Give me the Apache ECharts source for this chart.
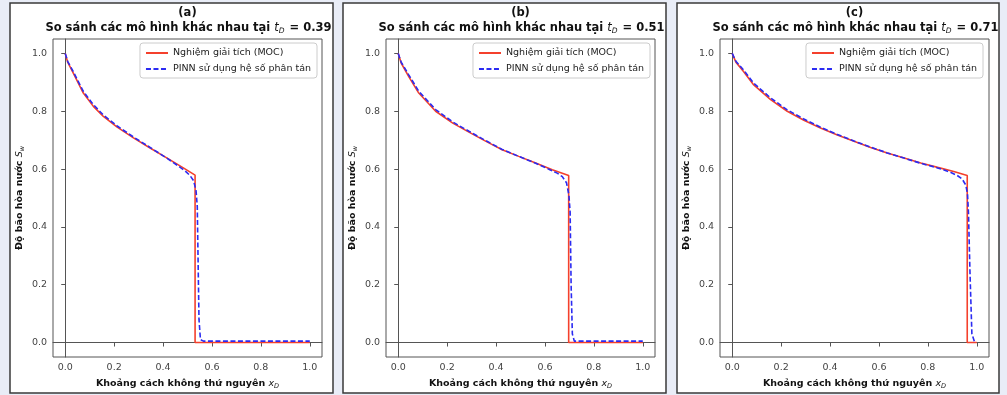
<!DOCTYPE html>
<html>
<head>
<meta charset="utf-8">
<script src="https://cdn.jsdelivr.net/npm/echarts@6/dist/echarts.min.js"></script>
<style>
  html, body { margin: 0; padding: 0; background: #e9edf7; }
  #chart { width: 1007px; height: 395px; }
</style>
</head>
<body>
<div id="chart"></div>
<script>
// tick positions shared by the 3 subplots
const tickValues = [0, 0.2, 0.4, 0.6, 0.8, 1.0]
const panelTags = ['(a)', '(b)', '(c)']
const timeLabels = ['0.39', '0.51', '0.71']
const nameMoc = 'Nghiệm giải tích (MOC)'
const namePinn = 'PINN sử dụng hệ số phân tán'

// (a) t_D = 0.39
const mocXA = [0, 0.01, 0.033, 0.074, 0.115, 0.156, 0.211, 0.279, 0.347, 0.415, 0.483, 0.531, 0.531, 1.0]
const mocSA = [1.0, 0.97, 0.932, 0.863, 0.817, 0.782, 0.746, 0.708, 0.673, 0.639, 0.604, 0.579, 0, 0]
const pinnXA = [0, 0.01, 0.033, 0.074, 0.115, 0.156, 0.211, 0.279, 0.347, 0.415, 0.46, 0.49, 0.51, 0.525, 0.535, 0.54, 0.543, 0.547, 0.553, 0.565, 1.0]
const pinnSA = [1.0, 0.973, 0.937, 0.869, 0.823, 0.787, 0.75, 0.711, 0.675, 0.638, 0.612, 0.594, 0.578, 0.56, 0.525, 0.47, 0.3, 0.08, 0.01, 0.005, 0.005]

// (b) t_D = 0.51
const mocXB = [0, 0.012, 0.043, 0.084, 0.153, 0.223, 0.291, 0.359, 0.425, 0.493, 0.562, 0.63, 0.697, 0.697, 1.0]
const mocSB = [1.0, 0.967, 0.92, 0.863, 0.80, 0.759, 0.727, 0.696, 0.667, 0.644, 0.621, 0.598, 0.578, 0, 0]
const pinnXB = [0, 0.012, 0.043, 0.084, 0.153, 0.223, 0.291, 0.359, 0.425, 0.493, 0.562, 0.62, 0.65, 0.671, 0.688, 0.698, 0.703, 0.707, 0.712, 0.72, 1.0]
const pinnSB = [1.0, 0.97, 0.926, 0.869, 0.806, 0.763, 0.73, 0.698, 0.668, 0.644, 0.62, 0.598, 0.586, 0.574, 0.553, 0.51, 0.45, 0.2, 0.03, 0.005, 0.005]

// (c) t_D = 0.71
const mocXC = [0, 0.015, 0.047, 0.088, 0.157, 0.225, 0.293, 0.361, 0.43, 0.498, 0.566, 0.634, 0.703, 0.771, 0.84, 0.906, 0.961, 0.961, 1.0]
const mocSC = [1.0, 0.97, 0.937, 0.891, 0.84, 0.80, 0.769, 0.742, 0.718, 0.696, 0.675, 0.656, 0.638, 0.621, 0.606, 0.592, 0.578, 0, 0]
const pinnXC = [0, 0.015, 0.047, 0.088, 0.157, 0.225, 0.293, 0.361, 0.43, 0.498, 0.566, 0.634, 0.703, 0.771, 0.84, 0.89, 0.92, 0.94, 0.955, 0.962, 0.966, 0.972, 0.98, 0.99, 1.0]
const pinnSC = [1.0, 0.973, 0.942, 0.897, 0.846, 0.805, 0.773, 0.745, 0.72, 0.697, 0.676, 0.656, 0.638, 0.62, 0.604, 0.59, 0.578, 0.566, 0.545, 0.515, 0.45, 0.25, 0.03, 0.004, 0.004]

const mocX = [mocXA, mocXB, mocXC]
const mocS = [mocSA, mocSB, mocSC]
const pinnX = [pinnXA, pinnXB, pinnXC]
const pinnS = [pinnSA, pinnSB, pinnSC]

// layout of each figure panel (page coords)
const panelLeft = [10, 343, 677]
const panelWidth = [323, 323, 322]
const gridLeft = [53, 386, 720]
const gridWidth = 269
const legendRight = [690, 357, 24]

const font = 'DejaVu Sans'
const pair = (xs, ys) => xs.map((x, i) => [x, ys[i]])

// chữ in đậm / nghiêng / chỉ số dưới cho tên trục
const nameRich = {
    b: { fontFamily: font, fontSize: 9.5, fontWeight: 'bold', color: '#111' },
    it: { fontFamily: font, fontSize: 9.5, fontStyle: 'italic', color: '#111' },
    sub: { fontFamily: font, fontSize: 6.5, fontStyle: 'italic', color: '#111', padding: [5, 0, 0, 0] }
}

let grids = [], xAxes = [], yAxes = [], series = [], legends = [], graphics = []

for (let i = 0; i < 3; i++) {
    let cx = gridLeft[i] + gridWidth / 2
    // khung của mỗi hình con
    graphics.push({
        type: 'rect', z: -10,
        shape: { x: panelLeft[i], y: 3, width: panelWidth[i], height: 390 },
        style: { fill: '#fff', stroke: '#3a3a3a', lineWidth: 1.5 }
    })
    graphics.push({
        type: 'text', x: cx, y: 7,
        style: { text: panelTags[i], textAlign: 'center', font: 'bold 11.5px "DejaVu Sans"', fill: '#111' }
    })
    graphics.push({
        type: 'text', x: cx + 1, y: 21,
        style: {
            text: '{b|So sánh các mô hình khác nhau tại }{it|t}{sub|D}{b| = ' + timeLabels[i] + '}',
            textAlign: 'center',
            rich: {
                b: { fontFamily: font, fontSize: 11.5, fontWeight: 'bold', fill: '#111' },
                it: { fontFamily: font, fontSize: 11.5, fontStyle: 'italic', fill: '#111' },
                sub: { fontFamily: font, fontSize: 7.5, fontStyle: 'italic', fill: '#111', padding: [6, 1, 0, 0] }
            }
        }
    })

    grids.push({
        left: gridLeft[i], top: 39, width: gridWidth, height: 319,
        show: true, borderColor: '#555', borderWidth: 1, backgroundColor: 'transparent'
    })
    xAxes.push({
        type: 'value', gridIndex: i, min: -0.05, max: 1.05,
        name: '{b|Khoảng cách không thứ nguyên }{it|x}{sub|D}',
        nameLocation: 'middle', nameGap: 21,
        nameTextStyle: { rich: nameRich },
        axisLine: { show: true, lineStyle: { color: '#555' } },
        axisTick: { show: true, length: 4, customValues: tickValues, lineStyle: { color: '#555' } },
        axisLabel: {
            customValues: tickValues, fontFamily: font, fontSize: 9.5, color: '#444', margin: 6,
            formatter: v => v.toFixed(1)
        },
        splitLine: { show: false }
    })
    yAxes.push({
        type: 'value', gridIndex: i, min: -0.05, max: 1.05,
        name: '{b|Độ bão hòa nước }{it|S}{sub|w}',
        nameLocation: 'middle', nameGap: 27,
        nameTextStyle: { rich: nameRich },
        axisLine: { show: true, lineStyle: { color: '#555' } },
        axisTick: { show: true, length: 4, customValues: tickValues, lineStyle: { color: '#555' } },
        axisLabel: {
            customValues: tickValues, fontFamily: font, fontSize: 9.5, color: '#444', margin: 6,
            formatter: v => v.toFixed(1)
        },
        splitLine: { show: false }
    })
    series.push({
        name: nameMoc, type: 'line', xAxisIndex: i, yAxisIndex: i,
        symbol: 'none', data: pair(mocX[i], mocS[i]),
        lineStyle: { color: '#f4402c', width: 1.6 }, itemStyle: { color: '#f4402c' },
        z: 2
    })
    series.push({
        name: namePinn, type: 'line', xAxisIndex: i, yAxisIndex: i,
        symbol: 'none', data: pair(pinnX[i], pinnS[i]),
        lineStyle: { color: '#2b2bf2', width: 1.6, type: [5, 2.5] }, itemStyle: { color: '#2b2bf2' },
        z: 3
    })
    legends.push({
        orient: 'vertical', right: legendRight[i], top: 43,
        data: [nameMoc, namePinn],
        padding: [5, 6, 4, 5], itemGap: 6, itemWidth: 22, itemHeight: 10,
        // ẩn chấm tròn, chỉ giữ nét vẽ
        itemStyle: { color: 'transparent', borderWidth: 0 },
        backgroundColor: 'rgba(255,255,255,0.85)', borderColor: '#ccc', borderWidth: 1, borderRadius: 3,
        textStyle: { fontFamily: font, fontSize: 9.5, color: '#222' }
    })
}

let myChart = echarts.init(document.getElementById('chart'))
myChart.setOption({
    backgroundColor: '#e9edf7',
    animation: false,
    textStyle: { fontFamily: font },
    grid: grids,
    xAxis: xAxes,
    yAxis: yAxes,
    legend: legends,
    graphic: { elements: graphics },
    series: series
})
window.addEventListener('resize', function () {
    myChart.resize()
})
</script>
</body>
</html>
